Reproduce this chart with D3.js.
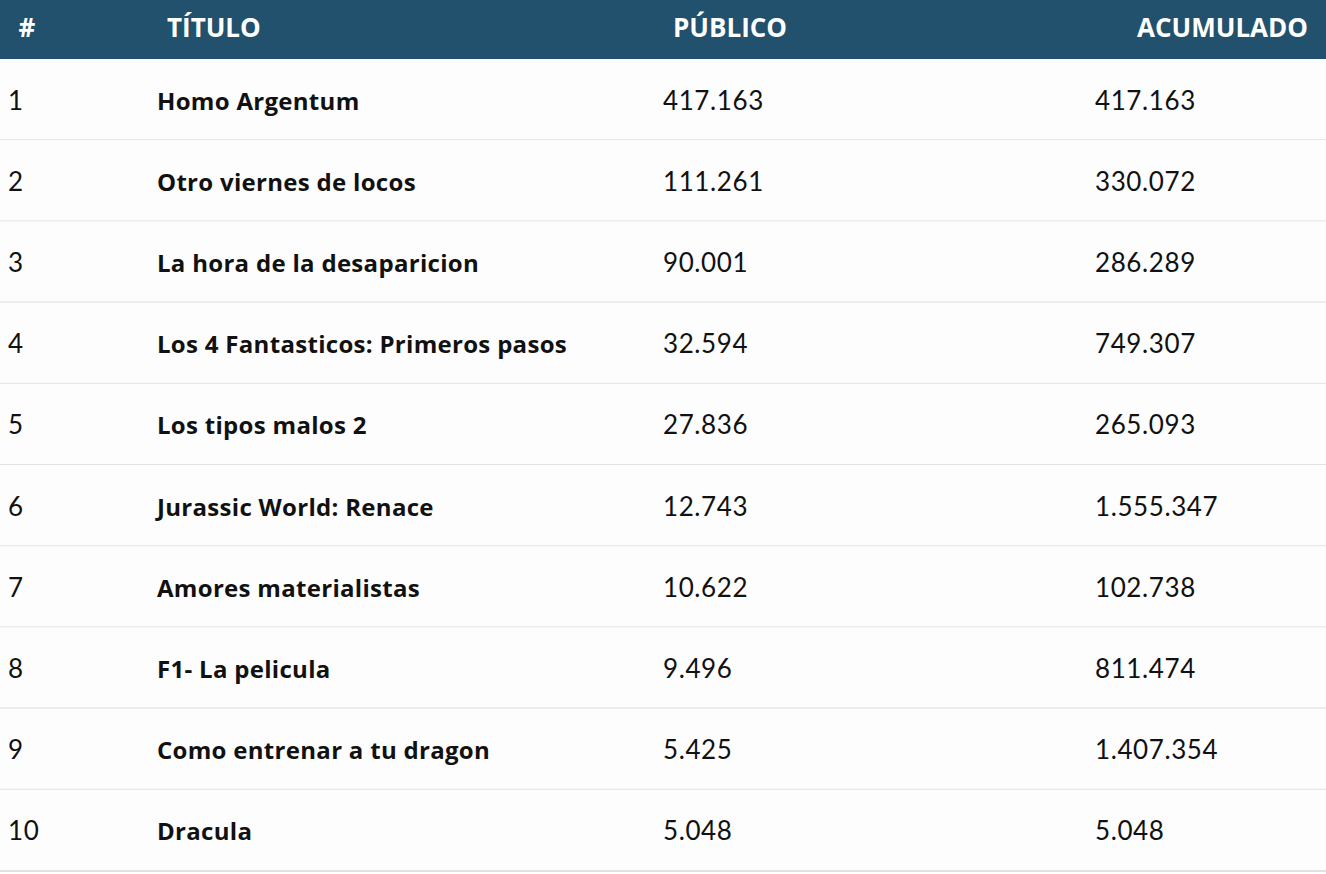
<!DOCTYPE html>
<html><head><meta charset="utf-8">
<script src="https://cdn.jsdelivr.net/npm/d3@7"></script>
<style>body{margin:0;background:#fff;}</style>
</head><body>
<script>
const headers = ["#", "TÍTULO", "PÚBLICO", "ACUMULADO"];
const ranks = [1,2,3,4,5,6,7,8,9,10];
const titles = ["Homo Argentum","Otro viernes de locos","La hora de la desaparicion","Los 4 Fantasticos: Primeros pasos","Los tipos malos 2","Jurassic World: Renace","Amores materialistas","F1- La pelicula","Como entrenar a tu dragon","Dracula"];
const publico = ["417.163","111.261","90.001","32.594","27.836","12.743","10.622","9.496","5.425","5.048"];
const acumulado = ["417.163","330.072","286.289","749.307","265.093","1.555.347","102.738","811.474","1.407.354","5.048"];

const W = 1326, H = 874, headH = 59, rowH = 81.2;
const svg = d3.select("body").append("svg").attr("width", W).attr("height", H);
const font = "Lato, 'Open Sans', sans-serif";
const bfont = "'Open Sans', sans-serif";
svg.append("rect").attr("width", W).attr("height", headH).attr("fill", "#22516e");
const hx = [{x:27,a:"middle"},{x:167,a:"start"},{x:673,a:"start"},{x:1308,a:"end"}];
svg.selectAll("text.h").data(headers).join("text").attr("class","h")
  .attr("x",(d,i)=>hx[i].x).attr("y",37).attr("text-anchor",(d,i)=>hx[i].a)
  .attr("fill","#fff").attr("font-family",bfont).attr("font-weight",700).attr("font-size",26).text(d=>d);

const y = d3.scaleBand().domain(ranks).range([headH, headH + rowH*10]);
const rows = svg.selectAll("g.r").data(ranks).join("g").attr("class","r")
  .attr("transform", d => `translate(0,${y(d)})`);
rows.append("rect").attr("width", W).attr("height", y.bandwidth()).attr("fill", "#fdfdfd");
rows.append("line").attr("x1",0).attr("x2",W).attr("y1",y.bandwidth()).attr("y2",y.bandwidth()).attr("stroke","#e2e2e2").attr("stroke-width",2);
const ty = y.bandwidth()/2 + 10;
const txt = (x, f, w, fam, fs, ls) => rows.append("text").attr("x",x).attr("y",ty).attr("font-family",fam)
  .attr("font-size",fs).attr("font-weight",w).attr("letter-spacing",ls).attr("fill","#111").text(f);
txt(8, d=>d, 400, font, 26, 0.6);
txt(157, (d,i)=>titles[i], 700, bfont, 24, 0.3);
txt(663, (d,i)=>publico[i], 400, font, 26, 0.6);
txt(1095, (d,i)=>acumulado[i], 400, font, 26, 0.6);
</script>
</body></html>
